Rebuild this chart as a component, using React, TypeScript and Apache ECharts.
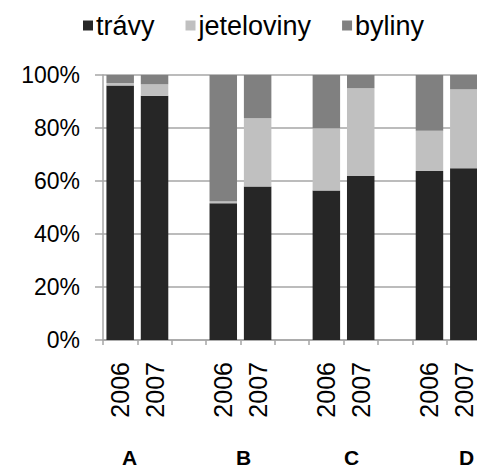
import React, { useEffect, useRef } from "react";
import * as echarts from "echarts";

const categories = ["2006", "2007", "", "2006", "2007", "", "2006", "2007", "", "2006", "2007"];
const groupLabels = ["A", "B", "C", "D"];
const travy = [96, 92.2, null, 51.6, 57.9, null, 56.4, 61.9, null, 63.8, 64.8];
const jeteloviny = [1, 4.3, null, 0.8, 25.8, null, 23.5, 33.1, null, 15.2, 29.8];
const byliny = [3, 3.5, null, 47.6, 16.3, null, 20.1, 5.0, null, 21.0, 5.4];
const yTicks = [0, 20, 40, 60, 80, 100];

export default function App() {
  const ref = useRef<HTMLDivElement>(null);
  useEffect(() => {
    if (!ref.current) return;
    const chart = echarts.init(ref.current, null, { renderer: "svg" });
    const font = "Arial, 'Liberation Sans', sans-serif";
    const groupX = [130, 244, 352, 467];
    chart.setOption({
      animation: false,
      backgroundColor: "#ffffff",
      textStyle: { fontFamily: font },
      legend: {
        top: 7,
        left: 78,
        itemWidth: 10,
        itemHeight: 10,
        itemGap: 31,
        icon: "rect",
        textStyle: { fontSize: 27, color: "#000", fontFamily: font, padding: [0, 0, 0, -2] },
        data: ["trávy", "jeteloviny", "byliny"],
      },
      grid: { left: 103, top: 75, width: 378, height: 265, outerBoundsMode: "none", containLabel: false },
      xAxis: {
        type: "category",
        data: categories,
        axisLine: { lineStyle: { color: "#a6a6a6", width: 1.5 } },
        axisTick: { show: true, length: 5, interval: 0, lineStyle: { color: "#a6a6a6", width: 1.5 } },
        axisLabel: { rotate: 90, interval: 0, margin: 22, fontSize: 25, color: "#000", fontFamily: font },
      },
      yAxis: {
        type: "value",
        min: yTicks[0],
        max: yTicks[yTicks.length - 1],
        interval: 20,
        axisLine: { show: true, lineStyle: { color: "#a6a6a6", width: 1.5 } },
        axisTick: { show: true, length: 8, inside: false, lineStyle: { color: "#a6a6a6", width: 1.5 } },
        splitLine: { lineStyle: { color: "#a6a6a6", width: 1.5 } },
        axisLabel: { formatter: "{value}%", fontSize: 23, color: "#000", margin: 23, fontFamily: font },
      },
      series: [
        { name: "trávy", type: "bar", stack: "s", data: travy, itemStyle: { color: "#262626" }, barCategoryGap: "20%" },
        { name: "jeteloviny", type: "bar", stack: "s", data: jeteloviny, itemStyle: { color: "#c0c0c0" } },
        { name: "byliny", type: "bar", stack: "s", data: byliny, itemStyle: { color: "#808080" } },
      ],
      graphic: groupLabels.map((g, i) => ({
        type: "text",
        left: groupX[i] - 8,
        top: 447,
        style: { text: g, font: `bold 21px ${font}`, fill: "#000" },
      })),
    });
    return () => chart.dispose();
  }, []);
  return <div ref={ref} style={{ position: "fixed", left: 0, top: 0, width: 477, height: 471 }} />;
}
